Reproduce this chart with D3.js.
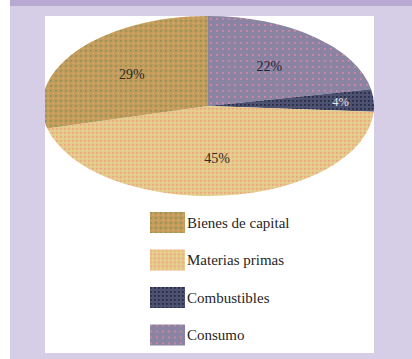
<!DOCTYPE html>
<html>
<head>
<meta charset="utf-8">
<script src="https://cdn.jsdelivr.net/npm/d3@7"></script>
<style>
  html, body { margin: 0; padding: 0; background: #fff; }
  svg { display: block; }
</style>
</head>
<body>
<svg id="chart" width="412" height="359"></svg>
<script>
// Shares of imports by category (percent)
const categories = ["Bienes de capital", "Materias primas", "Combustibles", "Consumo"];
const shares = [29, 45, 4, 22];
const valueLabels = ["29%", "45%", "4%", "22%"];

// Slices run clockwise from 12 o'clock in this order
const pieOrder = ["Consumo", "Combustibles", "Materias primas", "Bienes de capital"];

const svg = d3.select("#chart");
const W = 412, H = 359;

// Frame: lavender surround, darker top band, white panel
svg.append("rect").attr("x", 10).attr("y", 0).attr("width", W - 10).attr("height", H).attr("fill", "#d6cee7");
svg.append("rect").attr("x", 10).attr("y", 0).attr("width", W - 10).attr("height", 6).attr("fill", "#b7a9d3");
const panel = { x: 45, y: 16, w: 329, h: 337 };
svg.append("rect").attr("x", panel.x).attr("y", panel.y).attr("width", panel.w).attr("height", panel.h).attr("fill", "#ffffff");

const defs = svg.append("defs");
defs.append("clipPath").attr("id", "panelClip")
  .append("rect").attr("x", panel.x).attr("y", panel.y).attr("width", panel.w).attr("height", panel.h);

// Dotted textures for each category
function dotPattern(id, size, base, dots) {
  const p = defs.append("pattern").attr("id", id)
    .attr("patternUnits", "userSpaceOnUse").attr("width", size).attr("height", size);
  p.append("rect").attr("width", size).attr("height", size).attr("fill", base);
  dots.forEach(d => p.append("rect").attr("x", d[0]).attr("y", d[1])
    .attr("width", d[2]).attr("height", d[2]).attr("fill", d[3]));
}
dotPattern("pBienes", 5, "#c39c5c", [[0, 0, 1.8, "#8e935a"], [2.5, 2.5, 1.5, "#d9a96a"]]);
dotPattern("pMaterias", 4, "#e8c78a", [[0, 0, 1.6, "#e9a67d"], [2, 2, 1.6, "#e0d892"]]);
dotPattern("pCombust", 4, "#4d5273", [[0, 0, 1.8, "#2a2c44"]]);
dotPattern("pConsumo", 6, "#8a83a2", [[0, 0, 1.8, "#cb8aa9"]]);

const fillOf = {
  "Bienes de capital": "url(#pBienes)",
  "Materias primas": "url(#pMaterias)",
  "Combustibles": "url(#pCombust)",
  "Consumo": "url(#pConsumo)"
};
const labelColor = {
  "Bienes de capital": "#2e281e",
  "Materias primas": "#2e281e",
  "Combustibles": "#e8e8f0",
  "Consumo": "#26222f"
};

// Flattened (tilted) pie
const cx = 208, cy = 106, rx = 166, ry = 90;
const rows = pieOrder.map(name => {
  const i = categories.indexOf(name);
  return { name, value: shares[i], label: valueLabels[i] };
});
const pie = d3.pie().value(d => d.value).sort(null);
const arcs = pie(rows);

const pt = (a, k) => [cx + k * rx * Math.sin(a), cy - k * ry * Math.cos(a)];

function slicePath(d) {
  const [x0, y0] = pt(d.startAngle, 1);
  const [x1, y1] = pt(d.endAngle, 1);
  const large = (d.endAngle - d.startAngle) > Math.PI ? 1 : 0;
  return `M${cx},${cy}L${x0},${y0}A${rx},${ry} 0 ${large} 1 ${x1},${y1}Z`;
}

const g = svg.append("g").attr("clip-path", "url(#panelClip)");
g.selectAll("path.slice").data(arcs).join("path")
  .attr("class", "slice")
  .attr("d", slicePath)
  .attr("fill", d => fillOf[d.data.name]);

// Percentage labels placed along each slice's mid-angle
const labelPos = d => pt((d.startAngle + d.endAngle) / 2, d.data.value < 5 ? 0.8 : 0.58);
g.selectAll("text.pct").data(arcs).join("text")
  .attr("class", "pct")
  .attr("x", d => labelPos(d)[0])
  .attr("y", d => labelPos(d)[1])
  .attr("dy", "0.35em")
  .attr("text-anchor", "middle")
  .attr("font-family", "'Liberation Serif', 'DejaVu Serif', serif")
  .attr("font-size", d => d.data.value < 5 ? 12.5 : 14)
  .attr("fill", d => labelColor[d.data.name])
  .text(d => d.data.label);

// Legend
const legendY = d3.scalePoint().domain(categories).range([212, 324.5]);
const lg = svg.append("g");
const item = lg.selectAll("g").data(categories).join("g")
  .attr("transform", d => `translate(150,${legendY(d)})`);
item.append("rect").attr("width", 35).attr("height", 21).attr("fill", d => fillOf[d]);
item.append("text")
  .attr("x", 37).attr("y", 10.5).attr("dy", "0.35em")
  .attr("font-family", "'Liberation Serif', 'DejaVu Serif', serif")
  .attr("font-size", 15)
  .attr("fill", "#262626")
  .text(d => d);
</script>
</body>
</html>
